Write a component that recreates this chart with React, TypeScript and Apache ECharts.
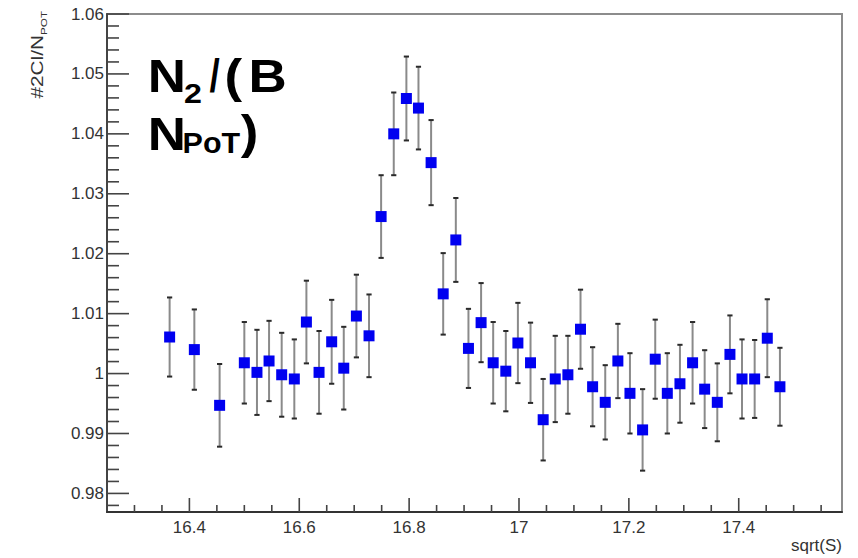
import React, { useEffect, useRef } from "react";
import * as echarts from "echarts";

// sqrt(S) bin centres
const xValues: number[] = [
  16.364, 16.409, 16.455, 16.500, 16.523, 16.545, 16.568, 16.591, 16.613, 16.636,
  16.659, 16.681, 16.704, 16.727, 16.749, 16.772, 16.795, 16.817, 16.840, 16.862,
  16.885, 16.908, 16.931, 16.953, 16.976, 16.998, 17.021, 17.044, 17.066, 17.089,
  17.112, 17.134, 17.157, 17.180, 17.202, 17.225, 17.248, 17.270, 17.293, 17.316,
  17.338, 17.361, 17.384, 17.406, 17.429, 17.452, 17.475,
];

// #2Cl/N_POT ratio values
const yValues: number[] = [
  1.0061, 1.0040, 0.9947, 1.0018, 1.0002, 1.0021, 0.9998, 0.9991, 1.0086, 1.0002,
  1.0053, 1.0009, 1.0096, 1.0063, 1.0262, 1.0400, 1.0459, 1.0443, 1.0352, 1.0133,
  1.0223, 1.0042, 1.0085, 1.0018, 1.0004, 1.0051, 1.0018, 0.9923, 0.9991, 0.9998,
  1.0074, 0.9978, 0.9952, 1.0021, 0.9967, 0.9906, 1.0024, 0.9967, 0.9983, 1.0018,
  0.9974, 0.9952, 1.0032, 0.9991, 0.9991, 1.0059, 0.9978,
];

// symmetric errors
const yErrors: number[] = [
  0.0066, 0.0067, 0.0069, 0.0068, 0.0071, 0.0067, 0.0070, 0.0066, 0.0069, 0.0069,
  0.0070, 0.0069, 0.0069, 0.0069, 0.0069, 0.0069, 0.0070, 0.0069, 0.0071, 0.0068,
  0.0070, 0.0066, 0.0066, 0.0068, 0.0067, 0.0067, 0.0067, 0.0068, 0.0072, 0.0065,
  0.0066, 0.0066, 0.0062, 0.0062, 0.0067, 0.0068, 0.0066, 0.0067, 0.0065, 0.0068,
  0.0065, 0.0065, 0.0065, 0.0066, 0.0065, 0.0065, 0.0065,
];

// axis ranges and tick values
const X_MIN = 16.25;
const X_MAX = 17.588;
const Y_MIN = 0.9769;
const Y_MAX = 1.06;
const xMajorTicks: number[] = [16.4, 16.6, 16.8, 17.0, 17.2, 17.4];
const xMinorStep = 0.05;
const yMajorTicks: number[] = [0.98, 0.99, 1.0, 1.01, 1.02, 1.03, 1.04, 1.05, 1.06];
const yMinorStep = 0.002;

const xAxisTitle = "sqrt(S)";
const yAxisMain = "#2Cl/N";
const yAxisSub = "POT";

const FONT = "'Liberation Sans', Arial, Helvetica, sans-serif";

const GRID = { left: 107, right: 16, top: 14, bottom: 46 };
const W = 858;
const H = 558;

function minorTicks(min: number, max: number, step: number, majors: number[]) {
  const out: number[] = [];
  const start = Math.ceil(min / step - 1e-9);
  const end = Math.floor(max / step + 1e-9);
  for (let i = start; i <= end; i++) {
    const v = +(i * step).toFixed(6);
    if (v <= min || v >= max) continue;
    if (majors.some((m) => Math.abs(m - v) < step / 10)) continue;
    out.push(v);
  }
  return out;
}

export default function App() {
  const ref = useRef<HTMLDivElement>(null);

  useEffect(() => {
    document.body.style.margin = "0";
    if (!ref.current) return;
    const chart = echarts.init(ref.current, null, { renderer: "svg" });

    const bigFs = 46;
    const mid = (baseline: number, fs: number) => baseline - 0.3465 * fs;
    const glyph = (text: string, x: number, baseline: number, fs: number, sx = 1.15) => ({
      type: "text",
      x,
      y: mid(baseline, fs),
      scaleX: sx,
      silent: true,
      style: {
        text,
        fontSize: fs,
        fontWeight: "bold",
        fontFamily: FONT,
        fill: "#000",
        align: "left",
        verticalAlign: "middle",
      },
    });

    const fmt = (step: number, digits: number) => (v: number) =>
      Math.abs(v / step - Math.round(v / step)) < 1e-6 ? String(+v.toFixed(digits)) : "";

    // inside tick marks as thin rect symbols, placed in data units
    const plotW = W - GRID.left - GRID.right;
    const plotH = H - GRID.top - GRID.bottom;
    const yPerPx = (Y_MAX - Y_MIN) / plotH;
    const xPerPx = (X_MAX - X_MIN) / plotW;
    const tw = 1.6;
    const tickItems: any[] = [
      ...xMajorTicks.map((v) => ({ value: [v, Y_MIN + 7 * yPerPx], symbolSize: [tw, 14] })),
      ...minorTicks(X_MIN, X_MAX, xMinorStep, xMajorTicks).map((v) => ({
        value: [v, Y_MIN + 3.5 * yPerPx],
        symbolSize: [tw, 7],
      })),
      ...yMajorTicks.map((v) => ({ value: [X_MIN + 11 * xPerPx, v], symbolSize: [22, tw] })),
      ...minorTicks(Y_MIN, Y_MAX, yMinorStep, yMajorTicks).map((v) => ({
        value: [X_MIN + 6 * xPerPx, v],
        symbolSize: [12, tw],
      })),
    ];

    const option: any = {
      animation: false,
      backgroundColor: "#ffffff",
      grid: {
        ...GRID,
        show: true,
        borderColor: "#8c8c8c",
        borderWidth: 2,
        backgroundColor: "rgba(0,0,0,0)",
      },
      xAxis: {
        type: "value",
        min: X_MIN,
        max: X_MAX,
        splitNumber: 6,
        axisLine: { show: true, onZero: false, lineStyle: { color: "#333", width: 2 } },
        axisTick: { show: false },
        minorTick: { show: false },
        splitLine: { show: false },
        minorSplitLine: { show: false },
        axisLabel: {
          show: true,
          fontSize: 17,
          color: "#333",
          fontFamily: FONT,
          margin: 7,
          showMinLabel: true,
          showMaxLabel: true,
          formatter: fmt(0.2, 1),
        },
      },
      yAxis: {
        type: "value",
        min: Y_MIN,
        max: Y_MAX,
        splitNumber: 8,
        axisLine: { show: true, onZero: false, lineStyle: { color: "#444", width: 2 } },
        axisTick: { show: false },
        minorTick: { show: false },
        splitLine: { show: false },
        minorSplitLine: { show: false },
        axisLabel: {
          show: true,
          fontSize: 17,
          color: "#333",
          fontFamily: FONT,
          margin: 3,
          showMinLabel: true,
          showMaxLabel: true,
          formatter: fmt(0.01, 2),
        },
      },
      series: [
        {
          type: "custom",
          silent: true,
          z: 2,
          data: xValues.map((x, i) => [x, yValues[i], yErrors[i]]),
          encode: { x: 0, y: 1 },
          renderItem: (_params: any, api: any) => {
            const x = api.value(0);
            const y = api.value(1);
            const e = api.value(2);
            const top = api.coord([x, y + e]);
            const bot = api.coord([x, y - e]);
            const cap = 2.6;
            return {
              type: "group",
              children: [
                {
                  type: "line",
                  shape: { x1: top[0], y1: top[1], x2: bot[0], y2: bot[1] },
                  style: { stroke: "#8a8a8a", lineWidth: 2 },
                },
                {
                  type: "line",
                  shape: { x1: top[0] - cap, y1: top[1], x2: top[0] + cap, y2: top[1] },
                  style: { stroke: "#2a2a2a", lineWidth: 2 },
                },
                {
                  type: "line",
                  shape: { x1: bot[0] - cap, y1: bot[1], x2: bot[0] + cap, y2: bot[1] },
                  style: { stroke: "#2a2a2a", lineWidth: 2 },
                },
              ],
            };
          },
        },
        {
          type: "scatter",
          z: 3,
          symbol: "rect",
          symbolSize: 11,
          itemStyle: { color: "#0000f0", opacity: 1 },
          data: xValues.map((x, i) => [x, yValues[i]]),
        },
        {
          type: "scatter",
          name: "ticks",
          z: 4,
          silent: true,
          clip: false,
          symbol: "rect",
          itemStyle: { color: "#444", opacity: 1 },
          emphasis: { disabled: true },
          data: tickItems,
        },
      ],
      graphic: [
        {
          type: "text",
          right: 16,
          top: 537,
          silent: true,
          style: { text: xAxisTitle, fontSize: 17, fontFamily: FONT, fill: "#333" },
        },
        {
          type: "group",
          x: 37.5,
          y: 35,
          rotation: Math.PI / 2,
          scaleX: 1.3,
          silent: true,
          children: [
            {
              type: "text",
              x: 0,
              y: 0,
              style: {
                text: yAxisMain,
                fontSize: 16,
                fontFamily: FONT,
                fill: "#333",
                align: "right",
                verticalAlign: "middle",
              },
            },
            {
              type: "text",
              x: 0,
              y: 6,
              style: {
                text: yAxisSub,
                fontSize: 9,
                fontFamily: FONT,
                fill: "#333",
                align: "left",
                verticalAlign: "middle",
              },
            },
          ],
        },
        glyph("N", 147.8, 91.7, bigFs),
        glyph("2", 184, 103.3, 28),
        glyph("/", 209.5, 91.7, bigFs, 0.8),
        glyph("(", 224.5, 91.7, bigFs),
        glyph("B", 248.5, 91.7, bigFs),
        glyph("N", 147.8, 150, bigFs),
        glyph("PoT", 182.6, 152.7, 29, 1.05),
        glyph(")", 240.7, 148.5, bigFs),
      ],
    };

    chart.setOption(option);
    return () => {
      chart.dispose();
    };
  }, []);

  return <div ref={ref} style={{ width: W, height: H }} />;
}
